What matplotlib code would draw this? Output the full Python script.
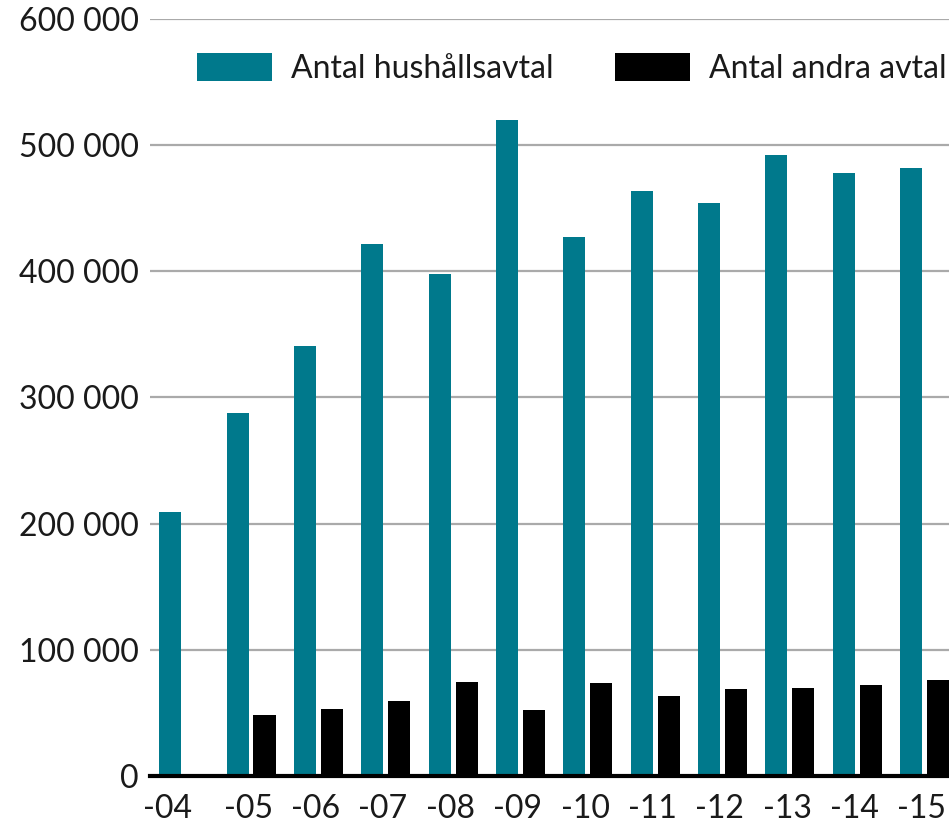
import matplotlib.pyplot as plt
from matplotlib.ticker import FuncFormatter
import numpy as np

plt.rcParams['font.family'] = ['Lato', 'DejaVu Sans']

years = ['-04', '-05', '-06', '-07', '-08', '-09', '-10', '-11', '-12', '-13', '-14', '-15']
hushall = [209000, 288000, 341000, 422000, 398000, 520000, 427000, 464000, 454000, 492000, 478000, 482000]
andra = [0, 48000, 53000, 59500, 74500, 52500, 74000, 63500, 69000, 69500, 72000, 76000]

teal = '#00798C'
x = np.arange(len(years))
w = 0.327

fig = plt.figure(figsize=(9.49, 8.25), dpi=100)
ax = fig.add_axes([150 / 949, 49 / 825, 799 / 949, 757 / 825])

ax.bar(x - 0.2, hushall, w, color=teal, label='Antal hushållsavtal', zorder=2)
ax.bar(x + 0.2, andra, w, color='black', label='Antal andra avtal', zorder=2)

ax.set_xlim(-0.5, 11.363)
ax.set_ylim(0, 600000)
ax.set_yticks(range(0, 600001, 100000))
ax.yaxis.set_major_formatter(FuncFormatter(lambda v, p: f'{int(v):,}'.replace(',', ' ')))
ax.grid(axis='y', color='#aaaaaa', linewidth=1.6, zorder=3)
ax.axhline(0, color='black', linewidth=3, zorder=4, clip_on=False)

# first label sits under its single bar
xt = x - 0.04
xt[0] = -0.24
ax.set_xticks(xt)
ax.set_xticklabels(years)

for s in ax.spines.values():
    s.set_visible(False)
ax.tick_params(length=0, labelsize=23, colors='#1a1a1a')
ax.tick_params(axis='y', pad=8)
ax.tick_params(axis='x', pad=13)

leg = ax.legend(loc='upper right', bbox_to_anchor=(0.997, 0.955), ncol=2, frameon=False,
                fontsize=23, handlelength=2.35, handleheight=0.95, handletextpad=0.6,
                columnspacing=1.9, borderaxespad=0, borderpad=0)
for t in leg.get_texts():
    t.set_color('#1a1a1a')

fig.savefig('out.png', dpi=100)
